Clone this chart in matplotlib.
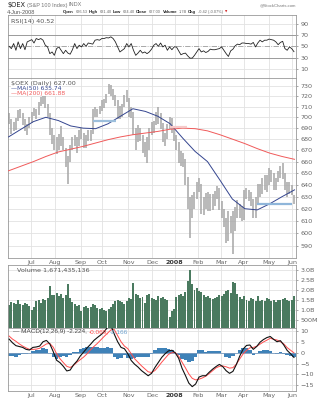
import numpy as np
import pandas as pd
import matplotlib
matplotlib.use("Agg")
import matplotlib.pyplot as plt
from matplotlib import font_manager

plt.rcParams['font.family'] = ['DejaVu Sans']
names = {f.name for f in font_manager.fontManager.ttflist}
narrow = 'Liberation Sans Narrow' if 'Liberation Sans Narrow' in names else 'Liberation Sans'

# trading days Jun 4 2007 - Jun 4 2008 (NYSE holidays removed)
holidays = ['2007-07-04', '2007-09-03', '2007-11-22', '2007-12-25', '2008-01-01',
            '2008-01-21', '2008-02-18', '2008-03-21', '2008-05-26']
dates = pd.bdate_range('2007-06-04', '2008-06-04', freq='C', holidays=holidays)

# price, 2-day high/low bars
price_lo = [694, 685, 687, 688, 697, 699, 693, 687, 684, 690,
            695, 701, 698, 702, 711, 712, 709, 700, 684, 676,
            670, 667, 670, 674, 670, 655, 641, 660, 670, 674,
            668, 674, 680, 672, 672, 678, 678, 685, 700, 700,
            703, 706, 709, 713, 722, 720, 716, 711, 698, 698,
            700, 710, 714, 700, 699, 684, 670, 677, 678, 668,
            664, 659, 670, 684, 686, 693, 694, 689, 677, 674,
            680, 689, 686, 678, 670, 659, 656, 655, 640, 620,
            596, 612, 620, 628, 634, 616, 615, 620, 618, 618,
            619, 622, 628, 619, 612, 605, 592, 594, 600, 584,
            602, 612, 612, 610, 611, 628, 626, 622, 612, 612,
            624, 630, 632, 636, 634, 640, 642, 636, 636, 642,
            646, 645, 636, 630, 632, 631, 624]
price_hi = [704, 698, 696, 699, 707, 708, 704, 698, 694, 700,
            705, 709, 708, 714, 719, 721, 721, 712, 704, 690,
            684, 682, 685, 692, 682, 672, 665, 675, 682, 684,
            682, 688, 690, 686, 684, 688, 688, 708, 710, 708,
            711, 716, 717, 722, 732, 731, 727, 721, 716, 711,
            712, 721, 726, 718, 710, 705, 690, 693, 690, 684,
            677, 682, 690, 696, 697, 705, 710, 704, 695, 686,
            694, 700, 699, 691, 684, 677, 669, 668, 662, 647,
            630, 631, 634, 642, 646, 641, 630, 633, 634, 632,
            632, 635, 639, 637, 626, 620, 612, 618, 614, 618,
            621, 627, 624, 622, 636, 637, 636, 634, 628, 630,
            641, 641, 646, 648, 648, 654, 653, 650, 646, 652,
            656, 659, 650, 642, 642, 640, 631]

# moving averages, every 11 trading days
ma50 = [682, 689, 696, 700, 697, 692, 690, 689.5, 694, 701, 708, 705.5,
        701, 694, 681, 669, 660, 644, 628, 620, 619, 624, 630, 635.7]
ma200 = [652, 656, 660, 664.5, 668.5, 671, 673.5, 676.5, 679.5, 682, 684, 685.5,
         687, 689, 690, 689.5, 687.5, 684, 680, 676, 671.5, 667.5, 664.5, 662]

# RSI(14), every 2 trading days
rsi = [50, 46, 55, 43, 58, 46, 55, 44, 58, 60,
       62, 56, 64, 62, 64, 61, 52, 49, 37, 40,
       34, 46, 49, 43, 37, 43, 38, 36, 44, 55,
       46, 52, 49, 55, 50, 56, 55, 54, 61, 62,
       61, 64, 64, 65.5, 65, 67, 64, 58, 49, 40,
       43, 46, 55, 49, 55, 43, 34, 38, 43, 38,
       40, 37, 40, 45, 52, 55, 50, 56, 49, 52,
       43, 49, 44, 49, 49, 42, 35, 37, 38, 33,
       29, 29, 34, 40, 46, 40, 42, 39, 41, 45,
       44, 44, 45, 46, 49, 43, 37, 32, 42, 45,
       51, 54, 53, 56, 56, 55, 55, 54, 57, 49,
       56, 61, 58, 61, 61, 63, 62, 61, 58, 53,
       57, 59, 46, 43, 49, 46, 40.5]

# volume in billions, every 2 trading days
volume = [1.25, 1.4, 1.35, 1.3, 1.5, 1.3, 1.25, 1.35, 1.3, 1.2,
          1.0, 1.15, 1.45, 1.5, 1.35, 1.55, 1.5, 1.6, 2.2, 1.75,
          1.75, 1.85, 1.7, 1.8, 1.6, 1.75, 2.3, 1.6, 1.4, 1.3,
          1.2, 1.25, 0.95, 1.15, 1.2, 1.1, 1.15, 1.3, 1.25, 1.1,
          1.05, 1.1, 1.0, 0.95, 1.05, 1.15, 1.3, 1.45, 1.5, 1.45,
          1.4, 1.3, 1.45, 1.6, 1.55, 2.35, 1.8, 1.75, 1.6, 1.65,
          1.35, 1.75, 1.8, 1.6, 1.55, 1.5, 1.7, 1.6, 1.65, 1.55,
          1.5, 0.65, 0.95, 1.05, 1.65, 1.75, 1.8, 1.7, 1.9, 2.45,
          3.0, 2.3, 2.0, 2.1, 1.95, 1.9, 1.75, 1.65, 1.7, 1.6,
          1.55, 1.6, 1.65, 1.75, 1.7, 1.8, 1.95, 2.0, 1.85, 2.4,
          2.35, 1.8, 1.65, 1.55, 1.7, 1.5, 1.45, 1.6, 1.55, 1.45,
          1.7, 1.45, 1.5, 1.45, 1.6, 1.55, 1.45, 1.5, 1.4, 1.5,
          1.5, 1.55, 1.6, 1.5, 1.45, 1.5, 1.7]

# MACD(12,26,9) and signal, every 3 trading days
macd = [6.2, 4.5, 3.2, 2.8, 2.4, 1.5, 1.2, 2.4, 2.6, 3.0,
        5.0, 5.6, 4.0, 0.5, -3.5, -4.6, -6.3, -8.4, -8.0, -5.6,
        -3.9, -1.5, 0.3, 2.2, 3.8, 5.6, 6.9, 8.1, 9.6, 11.5,
        12.5, 8.5, 5.0, 2.4, 1.8, -0.5, -3.6, -5.3, -6.6, -8.2,
        -9.4, -10.6, -9.5, -6.8, -4.5, -2.2, -0.5, 0.8, 1.1, -0.1,
        -2.6, -7.2, -10.5, -14.0, -15.6, -14.4, -11.2, -10.6, -10.6, -9.0,
        -7.6, -6.4, -5.4, -6.4, -8.3, -9.5, -8.6, -5.5, -1.6, 1.6,
        3.3, 3.5, 1.5, 2.8, 4.8, 6.0, 6.9, 7.4, 6.1, 5.0,
        5.5, 3.5, 1.0, -0.5, -2.2]
signal = [7.6, 6.2, 5.2, 4.0, 3.0, 2.2, 1.5, 1.5, 1.6, 2.0,
          3.0, 4.0, 4.2, 2.5, -0.5, -2.8, -4.6, -6.3, -6.8, -5.9,
          -4.4, -3.2, -2.0, -0.5, 1.3, 2.8, 4.2, 5.8, 7.4, 8.9,
          10.4, 10.6, 7.8, 5.0, 3.0, 1.8, -0.5, -2.8, -4.4, -6.0,
          -7.4, -8.8, -9.1, -8.2, -6.4, -4.4, -2.6, -0.8, 0.0, 0.0,
          -1.6, -4.4, -7.0, -9.8, -11.8, -12.5, -12.2, -11.6, -10.8, -9.6,
          -8.3, -7.0, -6.3, -6.1, -6.5, -7.1, -6.9, -5.3, -2.9, -0.6,
          1.0, 2.2, 2.4, 2.9, 3.9, 4.9, 5.7, 6.6, 6.1, 5.8,
          5.0, 4.0, 2.3, 1.1, -0.1]

# trend lines drawn on the price panel: (start day, end day, level, colour)
trend_lines = [(75, 95, 697, '#9dbfdc'), (220, 251, 624, '#8fb6da'),
               (143, 158, 691, '#f6caca')]

n = len(dates)
d2 = np.arange(0, n, 2) + 0.5
d3 = np.arange(0, n, 3) + 0.5
d11 = np.arange(0, n, 11)
hist = np.array(macd) - np.array(signal)

month_idx = [i for i in range(1, n) if dates[i].month != dates[i - 1].month]
month_lab = ['2008' if dates[i].month == 1 else dates[i].strftime('%b') for i in month_idx]

W, H = 322, 400
fig = plt.figure(figsize=(W / 100, H / 100), dpi=100)
rend = fig.canvas.get_renderer()


def panel(top, bottom):
    return fig.add_axes([8 / W, 1 - bottom / H, 288 / W, (bottom - top) / H])


def seq_text(x0, x1, y, parts, gap=1.5):
    # lay texts one after another, scaled to span x0..x1 pixels
    texts, widths = [], []
    for s, size, kw in parts:
        t = fig.text(0, 1 - y / H, s, fontsize=size, va='center', ha='left', **kw)
        texts.append(t)
        widths.append(t.get_window_extent(rend).width)
    k = (x1 - x0 - gap * (len(parts) - 1)) / sum(widths)
    x = x0
    for t, w in zip(texts, widths):
        t.set_fontsize(t.get_fontsize() * k)
        t.set_x(x / W)
        x += w * k + gap


ax_rsi = panel(15, 78)
ax_p = panel(78, 258)
ax_v = panel(265, 328)
ax_m = panel(328, 391)

grid_c = '#e2e2e2'
for ax in (ax_rsi, ax_p, ax_v, ax_m):
    ax.set_xlim(-0.5, n + 0.3)
    for s in ax.spines.values():
        s.set_color('#999999')
        s.set_linewidth(0.6)
    for i in month_idx:
        ax.axvline(i, color=grid_c, lw=0.6, zorder=0)
    ax.yaxis.tick_right()
    ax.tick_params(axis='y', labelsize=4.6, colors='#666666', length=1.5, width=0.4, pad=1.5)
    ax.set_xticks(month_idx)
    ax.tick_params(axis='x', length=0, labelsize=4.6, colors='#666666', pad=1.5)
    ax.set_xticklabels([])

# RSI
ax_rsi.set_ylim(-6.5, 106)
ax_rsi.set_yticks([10, 30, 50, 70, 90])
for lv in (10, 90):
    ax_rsi.axhline(lv, color=grid_c, lw=0.6, zorder=0)
for lv in (30, 70):
    ax_rsi.axhline(lv, color='#9a9a9a', lw=0.7, zorder=1)
ax_rsi.axhline(50, color='#9a9a9a', lw=0.6, ls='-.', zorder=1)
ax_rsi.plot(d2, rsi, color='#222222', lw=0.6, zorder=3)
ax_rsi.text(0.012, 0.93, 'RSI(14) 40.52', transform=ax_rsi.transAxes, fontsize=4.6,
            color='#555555', va='top', ha='left')

# price
ax_p.set_yscale('log')
ax_p.set_ylim(580.7, 737.5)
levels = list(range(590, 731, 10))
ax_p.set_yticks(levels)
ax_p.set_yticklabels([str(v) for v in levels])
ax_p.yaxis.set_minor_locator(matplotlib.ticker.NullLocator())
for lv in levels:
    ax_p.axhline(lv, color=grid_c, lw=0.6, zorder=0)
ax_p.vlines(d2, price_lo, price_hi, color='#a6a6a6', lw=1.1, zorder=2)
ax_p.plot(d11, ma50, color='#34458f', lw=0.7, zorder=3)
ax_p.plot(d11, ma200, color='#f05a5a', lw=0.7, zorder=3)
for a, b, lv, c in trend_lines:
    ax_p.plot([a, b], [lv, lv], color=c, lw=1.6, zorder=4, solid_capstyle='butt')
ax_p.set_xticklabels(month_lab)
for t in ax_p.get_xticklabels():
    if t.get_text() == '2008':
        t.set_fontweight('bold')
        t.set_color('#333333')
ax_p.text(0.01, 0.985, '$OEX (Daily) 627.00', transform=ax_p.transAxes, fontsize=4.6,
          color='#555555', va='top', ha='left',
          bbox=dict(facecolor='white', edgecolor='none', pad=0.3))
ax_p.text(0.01, 0.955, '\u2014MA(50) 635.74', transform=ax_p.transAxes, fontsize=4.3,
          color='#34458f', va='top', ha='left',
          bbox=dict(facecolor='white', edgecolor='none', pad=0.2))
ax_p.text(0.01, 0.93, '\u2014MA(200) 661.88', transform=ax_p.transAxes, fontsize=4.3,
          color='#f05a5a', va='top', ha='left',
          bbox=dict(facecolor='white', edgecolor='none', pad=0.2))

# volume
ax_v.set_ylim(0.1, 3.25)
vt = [0.5, 1.0, 1.5, 2.0, 2.5, 3.0]
ax_v.set_yticks(vt)
ax_v.set_yticklabels(['500M', '1.0B', '1.5B', '2.0B', '2.5B', '3.0B'])
for lv in vt:
    ax_v.axhline(lv, color=grid_c, lw=0.6, zorder=0)
ax_v.bar(d2, volume, width=1.75, color='#4a7a5f', edgecolor='none', zorder=2)
ax_v.text(0.03, 0.96, 'Volume 1,671,435,136', transform=ax_v.transAxes, fontsize=4.6,
          color='#555555', va='top', ha='left')

# MACD
ax_m.set_ylim(-17.6, 11.3)
mt = [-15, -10, -5, 0, 5, 10]
ax_m.set_yticks(mt)
for lv in mt:
    ax_m.axhline(lv, color=grid_c, lw=0.6, zorder=0)
ax_m.bar(d3, hist, width=3.0, color='#3f82b8', edgecolor='none', zorder=2)
ax_m.axhline(0, color='#7a9cc0', lw=0.6, zorder=2)
ax_m.plot(d3, signal, color='#ff4d4d', lw=0.7, zorder=3)
ax_m.plot(d3, macd, color='#111111', lw=0.8, zorder=4)
ax_m.set_xticklabels(month_lab)
for t in ax_m.get_xticklabels():
    if t.get_text() == '2008':
        t.set_fontweight('bold')
        t.set_color('#333333')
seq_text(13, 128, 332, [('\u2014 MACD(12,26,9) -2.224,', 4.5, dict(color='#444444', family=narrow)),
                        ('-0.069,', 4.5, dict(color='#ff4d4d', family=narrow)),
                        ('-2.166', 4.5, dict(color='#6fa3d0', family=narrow))], gap=1.2)

# header
seq_text(7, 25, 5, [('$OEX', 5.6, dict(color='#222222'))])
seq_text(27, 82, 5, [('(S&P 100 Index)', 4.2, dict(color='#777777', family=narrow)),
                     ('INDX', 4.2, dict(color='#777777', family=narrow))])
seq_text(260, 297, 5, [('@StockCharts.com', 4.2, dict(color='#777777', family=narrow))])
seq_text(7, 35, 12, [('4-Jun-2008', 4.2, dict(color='#555555', family=narrow))])
vals = [('Open', True), ('626.53', False), ('High', True), ('631.40', False),
        ('Low', True), ('624.40', False), ('Close', True), ('627.00', False),
        ('Volume', True), ('1.7B', False), ('Chg', True), ('-0.42 (-0.07%)', False)]
parts = [(s, 4.2, dict(color='#222222', fontweight='bold', family=narrow)) if b else
         (s, 3.9, dict(color='#666666', family=narrow)) for s, b in vals]
parts.append(('\u25bc', 3.0, dict(color='#d02020')))
seq_text(63, 227, 12, parts, gap=1.3)

fig.savefig('out.png', dpi=100)
